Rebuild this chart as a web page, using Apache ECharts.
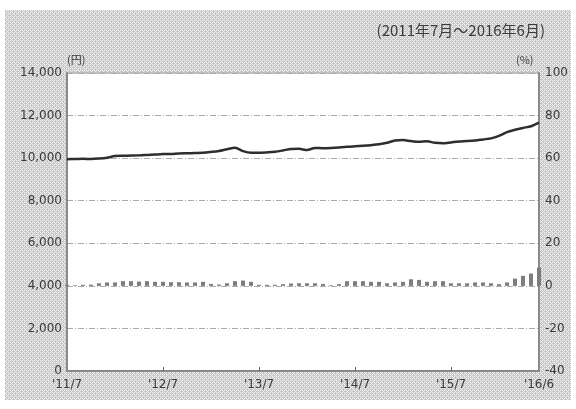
<!DOCTYPE html>
<html>
<head>
<meta charset="utf-8">
<script src="https://cdn.jsdelivr.net/npm/echarts@6/dist/echarts.min.js"></script>
<style>
html,body{margin:0;padding:0;background:#fff;}
#chart{width:576px;height:409px;}
</style>
</head>
<body>
<div id="chart"></div>
<script>
// ---- data ----
const months = [];
for (let i = 0; i < 60; i++) {
  const m = 7 + i;
  const y = 2011 + Math.floor((m - 1) / 12);
  const mm = ((m - 1) % 12) + 1;
  months.push(y + '/' + mm);
}
const tickLabels = {0: "'11/7", 12: "'12/7", 24: "'13/7", 36: "'14/7", 48: "'15/7", 59: "'16/6"};

const priceYen = [
  9950, 9960, 9970, 9960, 9980, 10020, 10100, 10110, 10120, 10130,
  10150, 10170, 10190, 10200, 10220, 10230, 10240, 10250, 10290, 10340,
  10420, 10490, 10330, 10250, 10250, 10270, 10300, 10360, 10430, 10440,
  10380, 10480, 10470, 10480, 10500, 10530, 10560, 10580, 10610, 10650,
  10720, 10830, 10850, 10800, 10770, 10790, 10720, 10700, 10740, 10780,
  10800, 10830, 10880, 10930, 11050, 11220, 11330, 11420, 11500, 11670
];

const changePct = [
  0.5, 0.3, 0.5, 0.6, 1.2, 1.6, 1.6, 2.2, 2.2, 2.0,
  2.2, 1.9, 1.9, 1.7, 1.7, 1.6, 1.6, 1.9, 0.9, 0.6,
  1.2, 2.2, 2.5, 1.9, 0.5, 0.5, 0.5, 0.8, 1.1, 1.2,
  1.2, 1.2, 0.9, 0.3, 0.8, 2.2, 2.2, 2.2, 1.9, 1.9,
  1.2, 1.6, 1.9, 3.1, 2.8, 1.9, 2.2, 2.2, 1.2, 1.2,
  1.2, 1.6, 1.6, 1.2, 0.8, 1.6, 3.4, 4.7, 5.8, 8.6
];

// ---- background hatch pattern ----
function makePattern() {
  const c = document.createElement('canvas');
  c.width = 4; c.height = 4;
  const ctx = c.getContext('2d');
  ctx.fillStyle = '#c6c6c6';
  ctx.fillRect(0, 0, 4, 4);
  ctx.fillStyle = '#f4f4f4';
  ctx.fillRect(0, 0, 1, 1);
  ctx.fillRect(2, 2, 1, 1);
  ctx.fillRect(2, 0, 1, 1);
  ctx.fillRect(0, 2, 1, 1);
  ctx.fillStyle = '#e4ecec';
  ctx.fillRect(1, 1, 1, 1);
  ctx.fillRect(3, 3, 1, 1);
  return c;
}

const chart = echarts.init(document.getElementById('chart'), null, {renderer: 'canvas'});
const txt = '#3a3a3a';
const font = '"DejaVu Sans", "Noto Sans CJK JP", sans-serif';

chart.setOption({
  animation: false,
  backgroundColor: '#fff',
  textStyle: {fontFamily: font},
  graphic: [
    {type: 'rect', z: -10, silent: true,
     shape: {x: 5, y: 10, width: 566, height: 390},
     style: {fill: {image: makePattern(), repeat: 'repeat'}}},
    {type: 'text', right: 31, top: 23, z: 10,
     style: {text: '(2011年7月～2016年6月)', fill: txt, font: '15px "Noto Sans CJK JP"'}},
    {type: 'text', left: 67, top: 54, z: 10,
     style: {text: '(円)', fill: txt, font: '11px "Noto Sans CJK JP"'}},
    {type: 'text', left: 516, top: 54, z: 10,
     style: {text: '(%)', fill: txt, font: '11px "Noto Sans CJK JP"'}}
  ],
  grid: {left: 67, right: 37, top: 73, bottom: 38, show: true,
         backgroundColor: '#fff', borderColor: '#9a9a9a', borderWidth: 1},
  xAxis: {
    type: 'category', data: months, boundaryGap: false,
    axisLine: {lineStyle: {color: '#8a8a8a', width: 2}},
    axisTick: {show: true, inside: true, length: 4, lineStyle: {color: '#666'},
      interval: function (i) { return i > 0 && i < 59 && i % 12 === 0; }},
    axisLabel: {
      interval: function (i) { return tickLabels[i] !== undefined; },
      formatter: function (v, i) { return tickLabels[i] || ''; },
      color: txt, fontSize: 12, margin: 8, showMaxLabel: true
    },
    splitLine: {show: false}
  },
  yAxis: [
    {type: 'value', min: 0, max: 14000, interval: 2000,
     axisLine: {show: true, lineStyle: {color: '#8a8a8a', width: 2}},
     axisTick: {show: false},
     axisLabel: {color: txt, fontSize: 12, margin: 5,
       formatter: function (v) { return v.toLocaleString('en-US'); }},
     splitLine: {show: true, lineStyle: {color: '#b0a8b0', width: 1, type: [6, 2, 1, 2]}}},
    {type: 'value', min: -40, max: 100, interval: 20, position: 'right',
     axisLine: {show: true, lineStyle: {color: '#8a8a8a', width: 2}},
     axisTick: {show: false},
     axisLabel: {color: txt, fontSize: 12, margin: 6},
     splitLine: {show: false}}
  ],
  series: [
    {type: 'bar', yAxisIndex: 1, data: changePct, barWidth: 4,
     itemStyle: {color: '#7d7d7d'}, z: 2},
    {type: 'line', yAxisIndex: 0, data: priceYen, symbol: 'none', smooth: 0.3,
     lineStyle: {color: '#2e2e2e', width: 2.5}, z: 3}
  ]
});
</script>
</body>
</html>
